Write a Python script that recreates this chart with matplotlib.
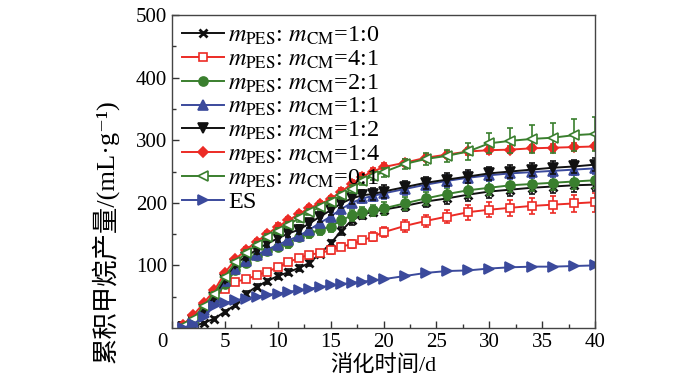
import matplotlib
matplotlib.use("Agg")
import matplotlib.pyplot as plt
import matplotlib.transforms as mtransforms

plt.rcParams['font.family'] = ['Liberation Serif', 'Noto Sans CJK SC', 'DejaVu Serif']
plt.rcParams['mathtext.fontset'] = 'stix'

days = list(range(1, 21)) + list(range(22, 41, 2))

s10 = [0, 3, 8, 15, 26, 37, 55, 66, 75, 83, 89, 96, 104, 119, 135, 155, 172, 181, 186, 189,
       195, 202, 207, 213, 218, 221, 224, 226, 228, 229]
s41 = [3, 10, 30, 50, 62, 74, 78, 84, 90, 97, 105, 112, 117, 120, 124, 130, 134, 140, 146, 153,
       163, 171, 178, 185, 189, 192, 195, 197, 199, 201]
s21 = [2, 10, 28, 45, 70, 92, 104, 115, 123, 130, 135, 146, 151, 157, 162, 172, 180, 185, 188, 191,
       199, 207, 214, 220, 224, 228, 230, 232, 234, 236]
s11 = [2, 10, 28, 48, 75, 95, 107, 117, 125, 133, 140, 147, 157, 168, 178, 190, 200, 207, 211, 215,
       222, 229, 235, 240, 244, 247, 249, 251, 253, 255]
s12 = [2, 12, 30, 50, 78, 103, 114, 125, 135, 143, 151, 157, 167, 178, 188, 199, 207, 212, 214, 218,
       225, 232, 237, 242, 247, 250, 253, 256, 258, 261]
s14 = [5, 20, 40, 60, 88, 110, 125, 138, 150, 162, 172, 182, 192, 198, 206, 218, 230, 242, 250, 257,
       264, 272, 277, 282, 284, 285, 287, 288, 289, 290]
s01 = [3, 15, 35, 55, 82, 105, 120, 133, 145, 155, 165, 175, 185, 193, 201, 212, 222, 235, 243, 249,
       262, 270, 275, 282, 295, 299, 302, 304, 308, 310]
sES = [0, 6, 18, 35, 40, 44, 47, 50, 53, 55, 58, 60, 63, 65, 68, 70, 72, 74, 76, 78,
       83, 88, 91, 92, 95, 97, 98, 98, 99, 100]

e10 = [1, 1, 2, 2, 3, 3, 4, 4, 4, 5, 5, 5, 5, 5, 6, 6, 7, 7, 7, 8, 8, 9, 9, 10, 10, 10, 10, 10, 10, 10]
e41 = [1, 1, 2, 2, 3, 3, 3, 4, 4, 4, 5, 5, 5, 5, 5, 6, 6, 6, 7, 8, 9, 10, 11, 12, 12, 13, 13, 14, 14, 15]
e21 = [1, 1, 2, 3, 4, 5, 5, 6, 6, 6, 7, 7, 7, 8, 8, 8, 9, 9, 9, 10, 10, 10, 10, 11, 11, 11, 11, 12, 12, 12]
e11 = [1, 1, 2, 3, 4, 5, 5, 5, 6, 6, 6, 6, 7, 7, 7, 8, 8, 8, 8, 9, 9, 9, 9, 9, 9, 9, 9, 9, 9, 9]
e12 = [1, 1, 2, 3, 4, 5, 5, 6, 6, 6, 6, 7, 7, 8, 8, 8, 9, 9, 9, 10, 10, 10, 10, 10, 10, 10, 10, 10, 10, 10]
e14 = [1, 1, 2, 3, 3, 4, 4, 4, 5, 5, 5, 5, 5, 5, 5, 5, 6, 6, 6, 6, 6, 6, 6, 6, 6, 6, 6, 6, 6, 6]
e01 = [1, 1, 2, 3, 3, 4, 4, 4, 5, 5, 5, 5, 5, 5, 6, 6, 6, 6, 7, 7, 8, 9, 10, 14, 16, 20, 23, 24, 26, 27]

labels = [r'$m_{\rm PES}$: $m_{\rm CM}$=1:0', r'$m_{\rm PES}$: $m_{\rm CM}$=4:1',
          r'$m_{\rm PES}$: $m_{\rm CM}$=2:1', r'$m_{\rm PES}$: $m_{\rm CM}$=1:1',
          r'$m_{\rm PES}$: $m_{\rm CM}$=1:2', r'$m_{\rm PES}$: $m_{\rm CM}$=1:4',
          r'$m_{\rm PES}$: $m_{\rm CM}$=0:1', 'ES']

BLACK = '#111111'
RED = '#ec2b25'
GREEN = '#3a7f2e'
BLUE = '#3b4a9c'

styles = [
    (s10, e10, BLACK, 'x', BLACK, 6),
    (s41, e41, RED, 's', 'white', 5.5),
    (s21, e21, GREEN, 'o', GREEN, 6.5),
    (s11, e11, BLUE, '^', BLUE, 6.5),
    (s12, e12, BLACK, 'v', BLACK, 6.5),
    (s14, e14, RED, 'D', RED, 5.5),
    (s01, e01, GREEN, '<', 'white', 6.5),
    (sES, None, BLUE, '>', BLUE, 7.5),
]

fig = plt.figure(figsize=(7.0, 3.87), dpi=100)
ax = fig.add_axes([172/700, 1 - 328/387, 423/700, 313/387])

handles = []
for (vals, err, col, mk, mfc, ms), lab in zip(styles, labels):
    if err is not None:
        ax.errorbar(days, vals, yerr=err, fmt='none', ecolor=col, elinewidth=1.2,
                    capsize=2.5, capthick=1.2)
    mew = 2.0 if mk == 'x' else 1.2
    h, = ax.plot(days, vals, color=col, marker=mk, markersize=ms, markerfacecolor=mfc,
                 markeredgecolor=col, markeredgewidth=mew, linewidth=1.4, label=lab)
    handles.append(h)

ax.set_xlim(0, 40)
ax.set_ylim(0, 500)
ax.set_xticks(range(0, 41, 5))
ax.set_xticks([2.5 + 5*i for i in range(8)], minor=True)
ax.set_yticks([100, 200, 300, 400, 500])
ax.set_yticks([50 + 100*i for i in range(5)], minor=True)
ax.tick_params(which='both', direction='in', top=False, right=False, labelsize=15,
               width=1.0, colors='#333333', labelcolor='black')
ax.tick_params(which='major', length=5)
ax.tick_params(which='minor', length=3)
for sp in ax.spines.values():
    sp.set_color('#444444')
    sp.set_linewidth(1.0)

# shift the x "0" label left to sit in the corner
lab0 = ax.get_xticklabels()[0]
offset = mtransforms.ScaledTranslation(-10/100, 0, fig.dpi_scale_trans)
lab0.set_transform(lab0.get_transform() + offset)

ax.set_xlabel('消化时间/d', fontsize=16, labelpad=2)
ax.set_ylabel('累积甲烷产量/(mL·g⁻¹)', fontsize=19, labelpad=8)
ax.yaxis.set_label_coords(-0.125, 0.31)

leg = ax.legend(handles=handles, loc='upper left', frameon=False, fontsize=17.5,
                handlelength=1.75, handletextpad=0.15, labelspacing=0.06,
                borderaxespad=0.3, borderpad=0.1)

fig.savefig('out.png', dpi=100)
